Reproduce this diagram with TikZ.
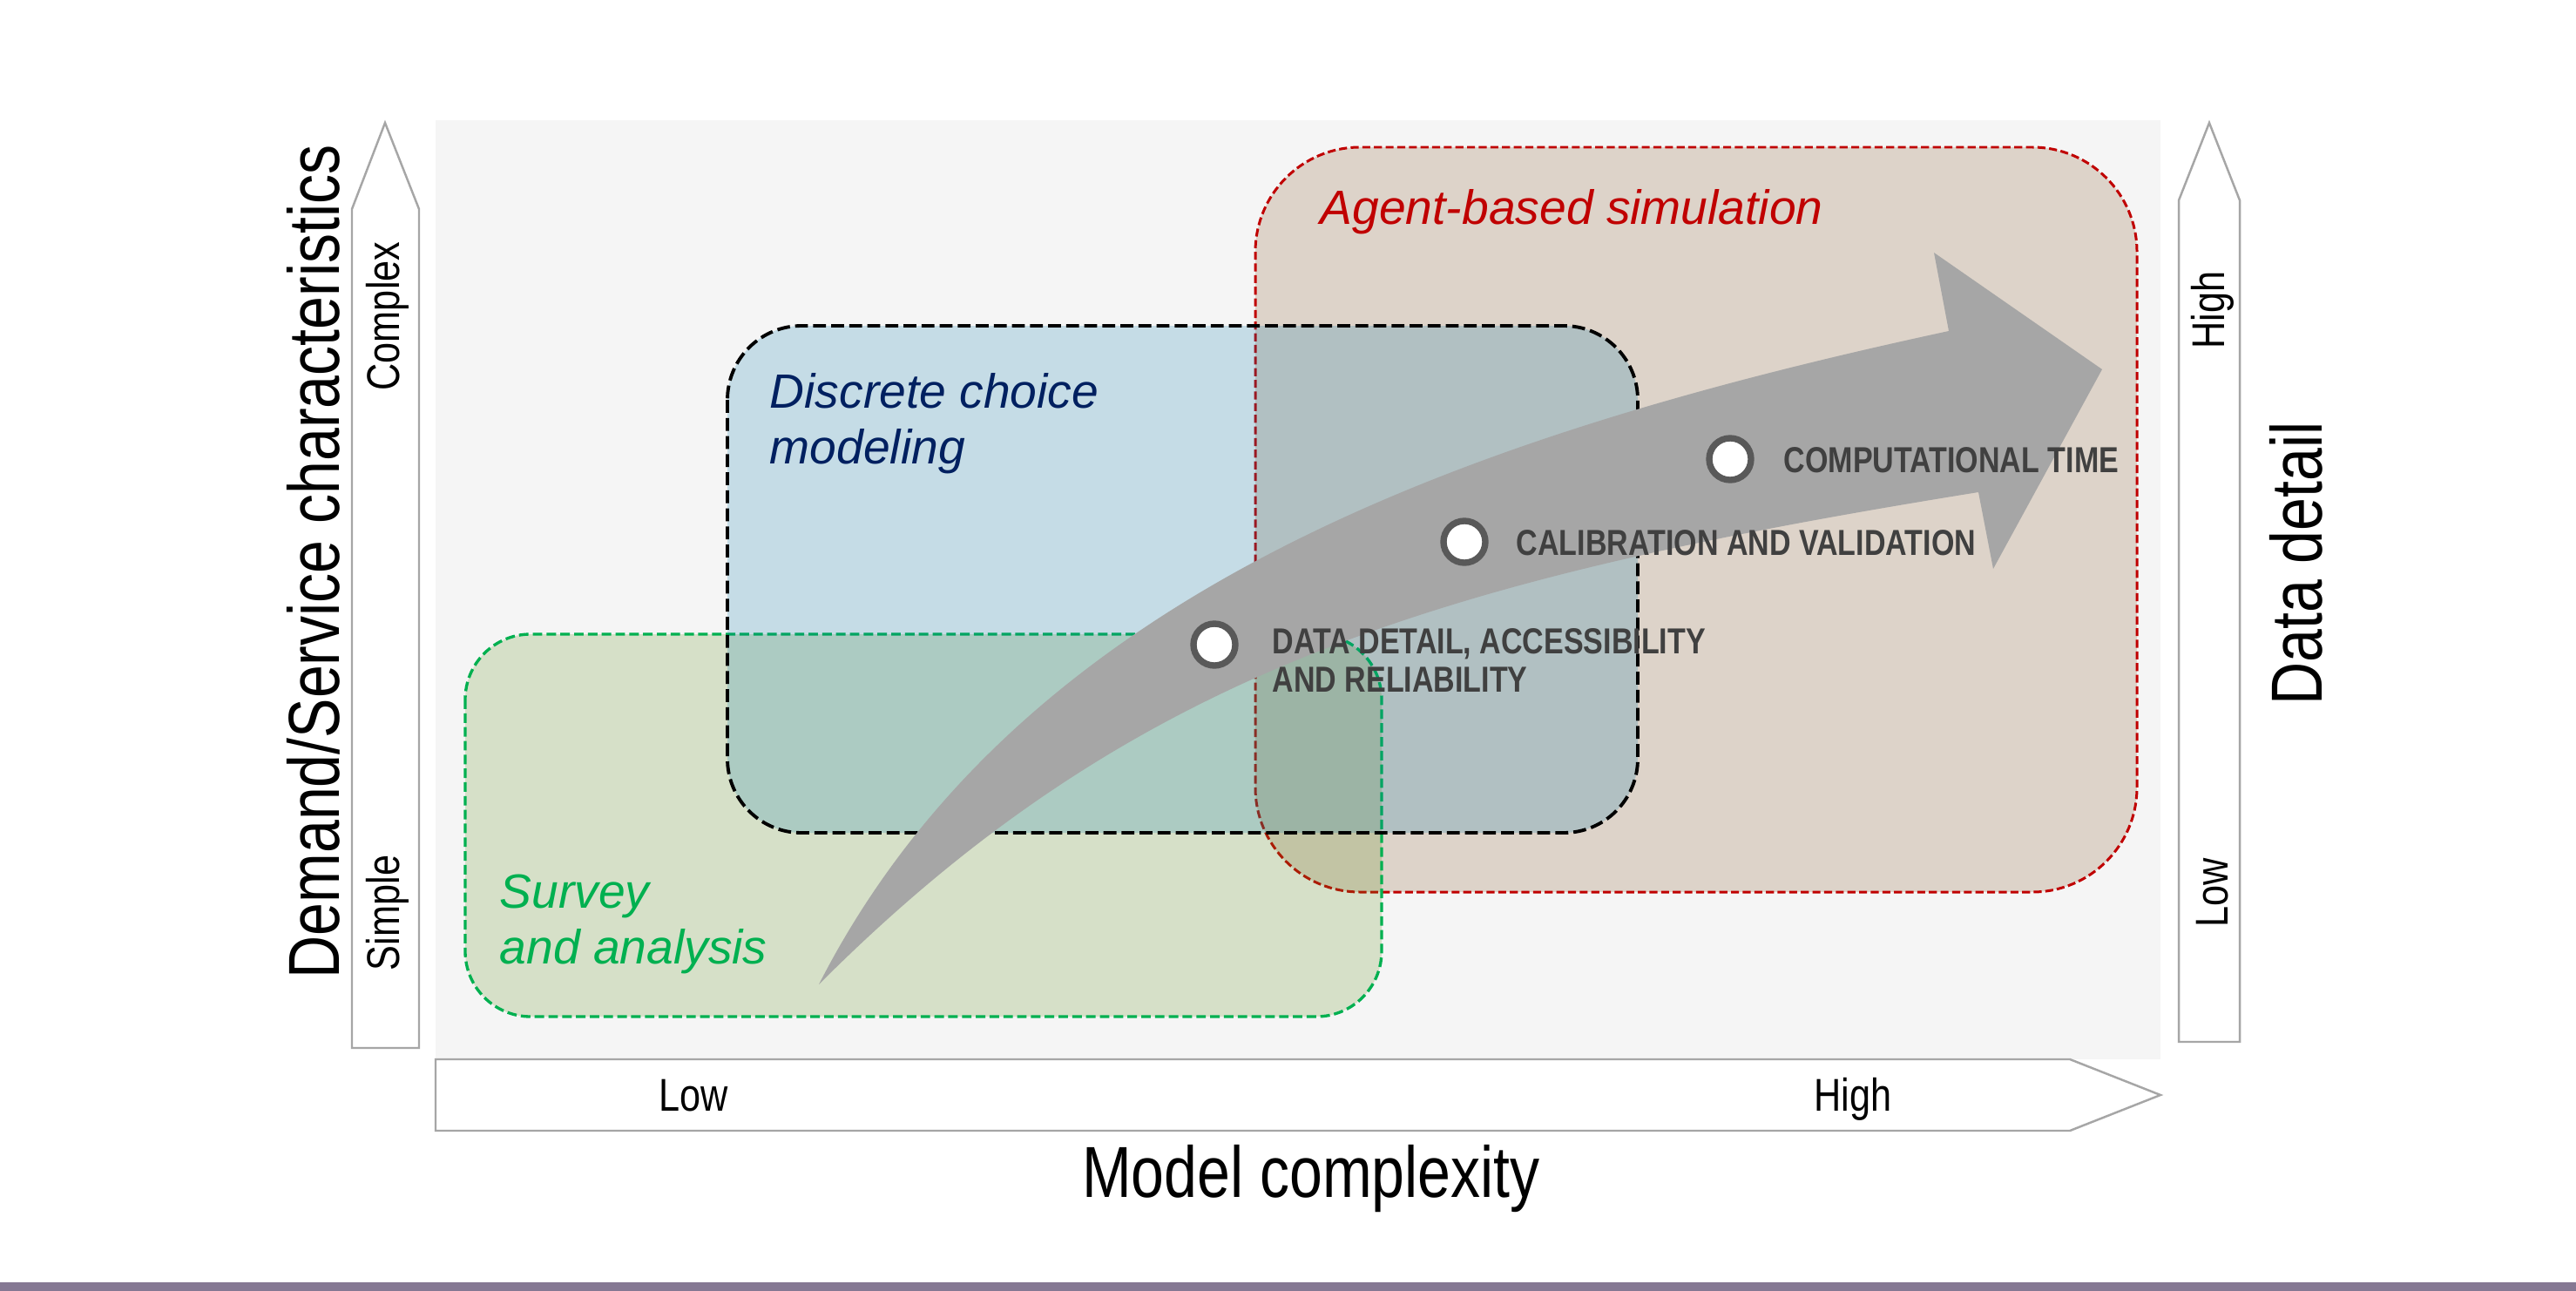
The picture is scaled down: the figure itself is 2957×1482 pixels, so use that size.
\documentclass[tikz,border=0pt]{standalone}
\usepackage{fontspec}
\setmainfont{Liberation Sans}
\newfontfamily\narrowfont{Liberation Sans}[FakeStretch=0.82]
\definecolor{panel}{HTML}{F5F5F5}
\definecolor{redfill}{RGB}{125,75,25}
\definecolor{greenfill}{RGB}{90,140,20}
\definecolor{bluefill}{RGB}{5,120,170}
\definecolor{redline}{HTML}{C00000}
\definecolor{greenline}{HTML}{00B050}
\definecolor{navy}{HTML}{002060}
\definecolor{arrowgray}{HTML}{A6A6A6}
\definecolor{ringgray}{HTML}{595959}
\definecolor{labelgray}{HTML}{404040}
\definecolor{axisline}{HTML}{A6A6A6}
\definecolor{barcolor}{RGB}{133,120,147}
\begin{document}
\begin{tikzpicture}[x=0.01cm,y=-0.01cm,
  axisarrow/.style={draw=axisline,line width=0.7pt,fill=white},
  bigtitle/.style={font=\narrowfont\fontsize{23.6}{28}\selectfont,inner sep=0},
  axislabel/.style={font=\narrowfont\fontsize{15}{18}\selectfont,inner sep=0},
  zonelabel/.style={font=\itshape\fontsize{15.7}{18.2}\selectfont,inner sep=0,align=left},
  steplabel/.style={font=\narrowfont\bfseries\fontsize{11.8}{12.5}\selectfont,text=labelgray,inner sep=0,align=left},
  ring/.style={circle,draw=ringgray,line width=2.1pt,fill=white,minimum size=0.48cm,inner sep=0}]
\useasboundingbox (0,0) rectangle (2957,1482);
\fill[white] (0,0) rectangle (2957,1482);
\fill[barcolor] (0,1472) rectangle (2957,1482);
% panel
\fill[panel] (500,138) rectangle (2480,1216);
% axis arrows
\draw[axisarrow] (404,1203) -- (404,240) -- (442,141) -- (481,240) -- (481,1203) -- cycle;
\draw[axisarrow] (2501,1196) -- (2501,230) -- (2536,141) -- (2571,230) -- (2571,1196) -- cycle;
\draw[axisarrow] (500,1216) -- (2376,1216) -- (2480,1257) -- (2376,1298) -- (500,1298) -- cycle;
% zones
\draw[redline,line width=0.85pt,dash pattern=on 2.6pt off 1.2pt,fill=redfill,fill opacity=0.2,rounded corners=1.2cm]
  (1441,169) rectangle (2453,1024);
\draw[greenline,line width=0.95pt,dash pattern=on 3.1pt off 1.4pt,fill=greenfill,fill opacity=0.2,rounded corners=0.75cm]
  (534,728) rectangle (1586,1167);
\draw[black,line width=1.1pt,dash pattern=on 4.2pt off 1.7pt,fill=bluefill,fill opacity=0.2,rounded corners=0.85cm]
  (835,374) rectangle (1880,956);
% big curved arrow
\fill[arrowgray] (940,1130) .. controls (1170,680) and (1680,500) .. (2237,380)
  -- (2220,290) -- (2413,424) -- (2288,653) -- (2271,565)
  .. controls (1650,665) and (1300,770) .. (940,1130) -- cycle;
% rings
\node[ring] (c1) at (1394,740) {};
\node[ring] (c2) at (1681,622) {};
\node[ring] (c3) at (1986,527) {};
% step labels
\node[steplabel,anchor=north west] (t1) at (1460,721) {DATA DETAIL, ACCESSIBILITY\\AND RELIABILITY};
\node[steplabel,anchor=base west] (t2) at (1740,637) {CALIBRATION AND VALIDATION};
\node[steplabel,anchor=base west] (t3) at (2047,542) {COMPUTATIONAL TIME};
% zone labels
\node[zonelabel,text=redline,anchor=base west] (abs) at (1515,258) {Agent-based simulation};
\node[zonelabel,text=navy,anchor=north west] (dcm) at (883,428) {Discrete choice\\modeling};
\node[zonelabel,text=greenline,anchor=north west] (sur) at (573,1003) {Survey\\and analysis};
% axis labels
\node[axislabel,rotate=90] (complex) at (445,363) {Complex};
\node[axislabel,rotate=90] (simple) at (445,1048) {Simple};
\node[axislabel,rotate=90] (dhigh) at (2540,356) {High};
\node[axislabel,rotate=90] (dlow) at (2540,1025) {Low};
\node[axislabel] (mlow) at (796,1258) {Low};
\node[axislabel] (mhigh) at (2127,1262) {High};
% titles
\node[bigtitle,rotate=90] (ytitle) at (360,645) {Demand/Service characteristics};
\node[bigtitle,rotate=90] (dtitle) at (2636,647) {Data detail};
\node[bigtitle] (xtitle) at (1505,1353) {Model complexity};
\end{tikzpicture}
\end{document}
